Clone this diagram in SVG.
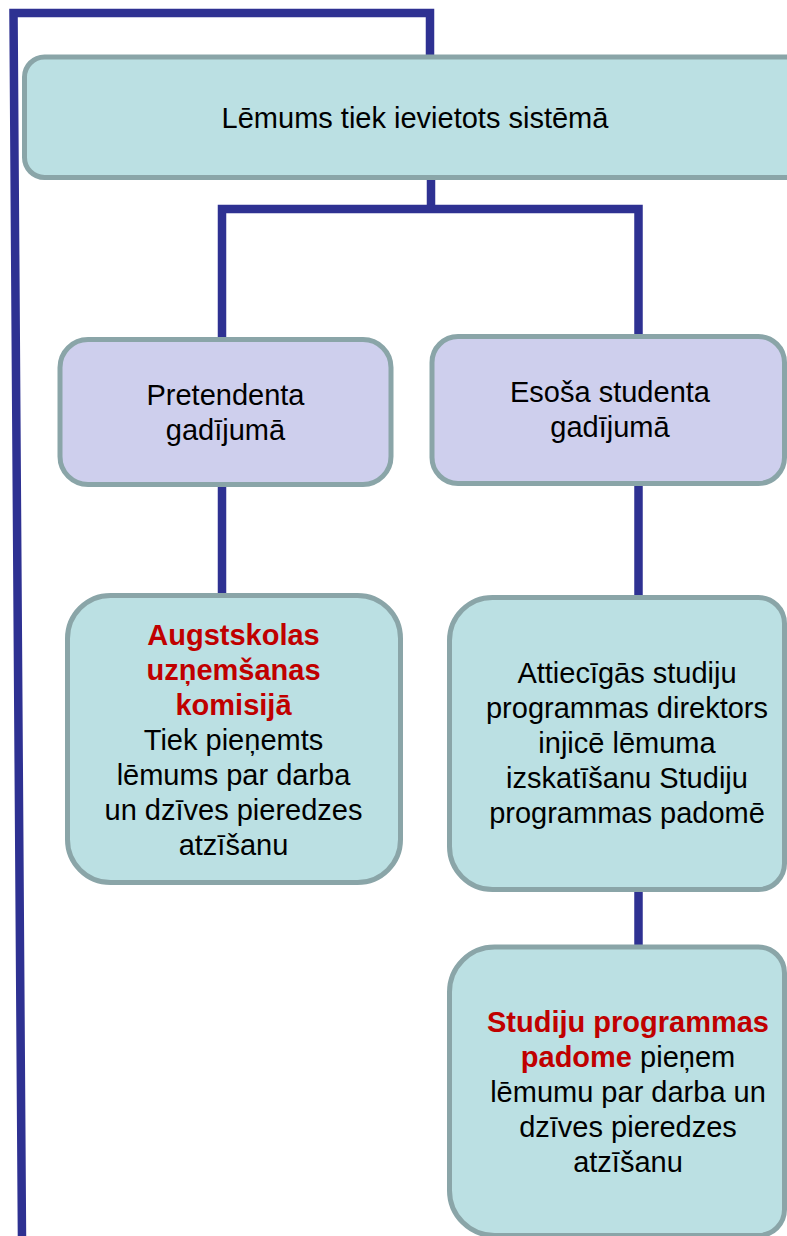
<svg xmlns="http://www.w3.org/2000/svg" width="787" height="1236" viewBox="0 0 787 1236">
<style>
.con{fill:none;stroke:#2E3192;stroke-width:8.5;stroke-linejoin:miter;stroke-linecap:butt}
.teal{fill:#BBE0E3;stroke:#8AA5A8;stroke-width:5}
.lav{fill:#CECFED;stroke:#8AA5A8;stroke-width:5}
text{font-family:"Liberation Sans",Arial,sans-serif;font-size:29px;fill:#000;text-anchor:middle}
.red{fill:#C00000;font-weight:bold}
</style>
<rect width="787" height="1236" fill="#FFFFFF"/>
<g id="connectors">
<path class="con" d="M22 1240 L13.5 13 L430 13 L430 58"/>
<path class="con" d="M431 177 V209"/>
<path class="con" d="M222 340 V209 H638.5 V337"/>
<path class="con" d="M222 484 V596"/>
<path class="con" d="M638.5 482 V598"/>
<path class="con" d="M638.5 888 V948"/>
</g>
<g id="node-top">
<rect class="teal" x="24.5" y="57" width="800" height="120.5" rx="20"/>
<text x="415" y="128">Lēmums tiek ievietots sistēmā</text>
</g>
<g id="node-pretendenta">
<rect class="lav" x="60" y="339.5" width="331" height="145" rx="28"/>
<text x="225.5" y="405">Pretendenta</text>
<text x="225.5" y="440">gadījumā</text>
</g>
<g id="node-esosa">
<rect class="lav" x="432" y="336.5" width="352.5" height="147" rx="26"/>
<text x="610" y="402">Esoša studenta</text>
<text x="610" y="437">gadījumā</text>
</g>
<g id="node-augstskolas">
<rect class="teal" x="67.5" y="595.5" width="333" height="287" rx="43"/>
<text class="red" x="233.5" y="645">Augstskolas</text>
<text class="red" x="233.5" y="680">uzņemšanas</text>
<text class="red" x="233.5" y="715">komisijā</text>
<text x="233.5" y="750">Tiek pieņemts</text>
<text x="233.5" y="785">lēmums par darba</text>
<text x="233.5" y="820">un dzīves pieredzes</text>
<text x="233.5" y="855">atzīšanu</text>
</g>
<g id="node-attiecigas">
<path class="teal" d="M492.5 597.5 H758.5 A26 26 0 0 1 784.5 623.5 V863.5 A26 26 0 0 1 758.5 889.5 H492.5 A43 43 0 0 1 449.5 846.5 V640.5 A43 43 0 0 1 492.5 597.5 Z"/>
<text x="627" y="683">Attiecīgās studiju</text>
<text x="627" y="718">programmas direktors</text>
<text x="627" y="753">injicē lēmuma</text>
<text x="627" y="788">izskatīšanu Studiju</text>
<text x="627" y="823">programmas padomē</text>
</g>
<g id="node-studiju">
<path class="teal" d="M494.5 947 H758.5 A26 26 0 0 1 784.5 973 V1209.5 A26 26 0 0 1 758.5 1235.5 H494.5 A45 45 0 0 1 449.5 1190.5 V992 A45 45 0 0 1 494.5 947 Z"/>
<text class="red" x="628" y="1032">Studiju programmas</text>
<text x="628" y="1067"><tspan class="red">padome</tspan> pieņem</text>
<text x="628" y="1102">lēmumu par darba un</text>
<text x="628" y="1137">dzīves pieredzes</text>
<text x="628" y="1172">atzīšanu</text>
</g>
</svg>
